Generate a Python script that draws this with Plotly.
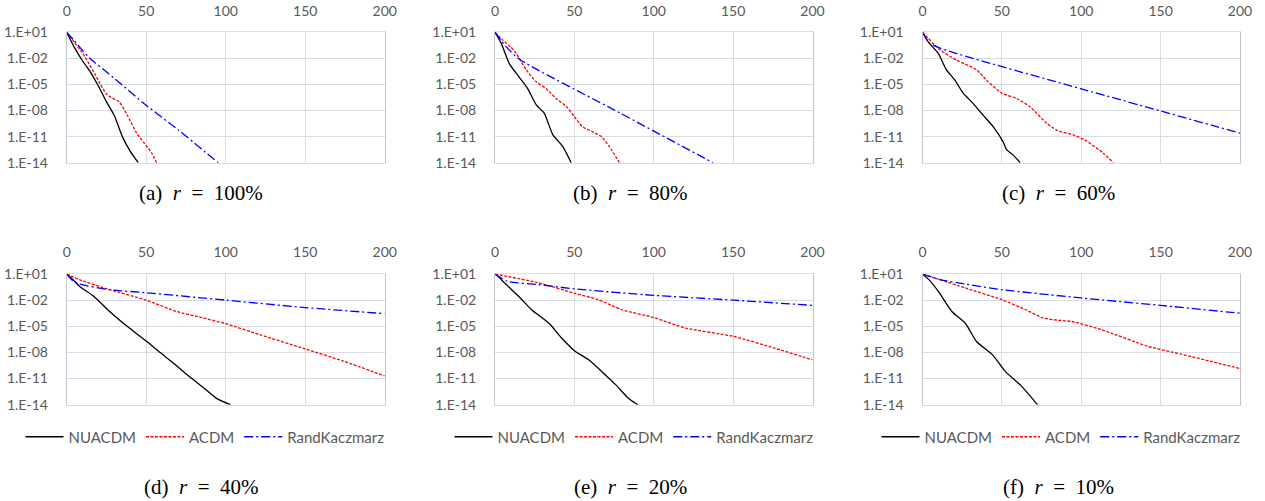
import plotly.graph_objects as go

# ---------------- data ----------------
series_names = ["NUACDM", "ACDM", "RandKaczmarz"]
panel_labels = ["(a)", "(b)", "(c)", "(d)", "(e)", "(f)"]
panel_r = ["100%", "80%", "60%", "40%", "20%", "10%"]
x_ticks = [0, 50, 100, 150, 200]
y_tickvals = [1e1, 1e-2, 1e-5, 1e-8, 1e-11, 1e-14]
y_ticktext = ["1.E+01", "1.E-02", "1.E-05", "1.E-08", "1.E-11", "1.E-14"]

# (a) r = 100%
a_nua_x = [0, 5, 10, 15, 20, 25, 30, 35, 40, 45]
a_nua_y = [1e1, 1.6e-1, 5e-3, 2.5e-4, 6.3e-6, 1e-7, 2.5e-9, 1e-11, 2e-13, 1e-14]
a_acd_x = [0, 5, 10, 14, 18, 21, 25, 28, 33, 38, 44, 49, 53.5, 56.5]
a_acd_y = [1e1, 6.3e-1, 4e-2, 2.5e-3, 1.26e-4, 1.26e-5, 7.9e-7, 3.16e-7, 1e-7,
           3.16e-9, 2.5e-11, 1.58e-12, 1.26e-13, 1e-14]
a_rk_x = [0, 5, 10, 14, 30, 50, 70, 95.3]
a_rk_y = [1e1, 1e0, 7.9e-2, 1.26e-2, 5e-5, 4e-8, 6.3e-11, 1e-14]

# (b) r = 80%
b_nua_x = [0, 4, 9, 15, 20.5, 26, 31, 36.5, 42.7, 48]
b_nua_y = [1e1, 5e-1, 2.5e-3, 7.9e-5, 3.55e-6, 4.47e-8, 5e-9, 1.58e-11, 7.08e-13, 1e-14]
b_acd_x = [0, 5, 10, 13.2, 19.6, 26, 32, 38.5, 45, 50, 55, 61.5, 67, 72, 78.4]
b_acd_y = [1e1, 1.26e0, 2e-1, 4e-2, 5e-4, 2e-5, 3.55e-6, 2.5e-7, 2.82e-8, 2e-9,
           1.41e-10, 3.55e-11, 1e-11, 7.08e-13, 1e-14]
b_rk_x = [0, 7, 15.4, 78.4, 137.3]
b_rk_y = [1e1, 2.24e-1, 7.9e-3, 5.62e-9, 1e-14]

# (c) r = 60%
c_nua_x = [0, 3.6, 10, 15, 20.4, 25.6, 32, 38, 44.5, 50.8, 53, 57, 61.5]
c_nua_y = [1e1, 7.9e-1, 3.55e-2, 5e-4, 3.16e-5, 1e-6, 6.3e-8, 3.16e-9, 1.41e-10,
           2.5e-12, 3.16e-13, 7.9e-14, 1e-14]
c_acd_x = [0, 10.9, 21.4, 34, 40.3, 49.8, 59.2, 67.6, 78.2, 84.5, 95, 102.3, 113.9, 120.2]
c_acd_y = [1e1, 1e-1, 6.3e-3, 5e-4, 3.16e-5, 1e-6, 2.5e-7, 2.82e-8, 3.55e-10,
           5.62e-11, 1.58e-11, 4e-12, 1.26e-13, 1e-14]
c_rk_x = [0, 4.6, 17.2, 100, 200]
c_rk_y = [1e1, 5.37e-1, 6.3e-2, 3.16e-6, 2.5e-11]

# (d) r = 40%
d_nua_x = [0, 4, 8, 17, 27, 38, 50, 59, 67, 76, 86, 94.5, 103]
d_nua_y = [1e1, 2.24e0, 4e-1, 2.82e-2, 5e-4, 1e-5, 2e-7, 8.91e-9, 6.3e-10, 2.5e-11,
           8.91e-13, 5e-14, 1e-14]
d_acd_x = [0, 8, 27, 50, 69, 85, 100, 122, 150, 174, 200]
d_acd_y = [1e1, 2.24e0, 1.58e-1, 1e-2, 5e-4, 1e-4, 2e-5, 1e-6, 2.5e-8, 1e-9, 2e-11]
d_rk_x = [0, 4, 8, 27, 50, 100, 150, 200]
d_rk_y = [1e1, 1.58e0, 7.08e-1, 1.58e-1, 7.08e-2, 1e-2, 1.41e-3, 2.82e-4]

# (e) r = 20%
e_nua_x = [0, 4, 10.5, 17, 23, 34, 42, 50, 59, 67, 76, 84, 90]
e_nua_y = [1e1, 2.24e0, 1.58e-1, 1.12e-2, 7.9e-4, 2.24e-5, 4.47e-7, 1.58e-8, 1.41e-9,
           7.08e-11, 2e-12, 5.62e-14, 1e-14]
e_acd_x = [0, 27, 50, 65, 80, 100, 120, 150, 176, 200]
e_acd_y = [1e1, 1e0, 6.3e-2, 1.12e-2, 7.9e-4, 1e-4, 6.3e-6, 7.08e-7, 3.16e-8, 1.41e-9]
e_rk_x = [0, 8, 27, 50, 100, 150, 200]
e_rk_y = [1e1, 1.41e0, 6.3e-1, 2e-1, 3.55e-2, 1e-2, 2.5e-3]

# (f) r = 10%
f_nua_x = [0, 4, 10, 18.5, 27, 34, 44, 52, 62.5, 72.4]
f_nua_y = [1e1, 2.24e0, 1e-1, 5e-4, 2.24e-5, 1.78e-7, 5.62e-9, 7.08e-11, 1.26e-12, 1e-14]
f_acd_x = [0, 27, 50, 65, 76, 85, 94, 113, 142, 163, 200]
f_acd_y = [1e1, 2.5e-1, 1.12e-2, 7.9e-4, 8.91e-5, 5e-5, 3.55e-5, 3.98e-6, 5e-8, 6.3e-9, 1.41e-10]
f_rk_x = [0, 10, 27, 50, 100, 150, 200]
f_rk_y = [1e1, 2.51e0, 7.08e-1, 1.58e-1, 1.78e-2, 2.5e-3, 3.16e-4]

panels = [
    [(a_nua_x, a_nua_y), (a_acd_x, a_acd_y), (a_rk_x, a_rk_y)],
    [(b_nua_x, b_nua_y), (b_acd_x, b_acd_y), (b_rk_x, b_rk_y)],
    [(c_nua_x, c_nua_y), (c_acd_x, c_acd_y), (c_rk_x, c_rk_y)],
    [(d_nua_x, d_nua_y), (d_acd_x, d_acd_y), (d_rk_x, d_rk_y)],
    [(e_nua_x, e_nua_y), (e_acd_x, e_acd_y), (e_rk_x, e_rk_y)],
    [(f_nua_x, f_nua_y), (f_acd_x, f_acd_y), (f_rk_x, f_rk_y)],
]

# ---------------- styling ----------------
W, H = 1265, 501
FONT = "Lato"
TXT = "#595959"
GRID = "#d9dce3"
line_styles = [
    dict(color="#000000", width=1.3, dash="solid"),
    dict(color="#ff0000", width=1.3, dash="3px,1.5px"),
    dict(color="#0000ff", width=1.3, dash="9px,3px,2px,3px"),
]
col_px = [(66.7, 384.7), (495.0, 812.5), (922.5, 1240.0)]
row_px = [(32.3, 162.7), (274.0, 404.7)]
caption_x_px = [201, 630, 1058]
caption_y_px = [193, 487]
legend_x_px = [205, 634, 1061]
legend_y_px = 437

fig = go.Figure()
layout = dict(
    width=W, height=H, margin=dict(l=0, r=0, t=0, b=0, autoexpand=False),
    paper_bgcolor="white", plot_bgcolor="white",
    font=dict(family=FONT, size=14, color=TXT),
)
annotations = []
for i in range(6):
    r, c = divmod(i, 3)
    n = i + 1
    xa = "xaxis" if n == 1 else f"xaxis{n}"
    ya = "yaxis" if n == 1 else f"yaxis{n}"
    xref = "x" if n == 1 else f"x{n}"
    yref = "y" if n == 1 else f"y{n}"
    layout[xa] = dict(
        domain=[col_px[c][0] / W, col_px[c][1] / W], anchor=yref, side="top",
        range=[0, 200], tickvals=x_ticks, showgrid=True, gridcolor=GRID, gridwidth=1,
        zeroline=False, showline=True, linecolor=GRID, mirror=True, ticks="",
        ticklabelstandoff=10, automargin=False,
        tickfont=dict(family=FONT, size=14, color=TXT),
    )
    layout[ya] = dict(
        domain=[1 - row_px[r][1] / H, 1 - row_px[r][0] / H], anchor=xref,
        type="log", range=[-14, 1], tickmode="array", tickvals=y_tickvals,
        ticktext=y_ticktext, showgrid=True, gridcolor=GRID, gridwidth=1,
        zeroline=False, showline=True, linecolor="#c0c6d2", mirror=True, ticks="",
        ticklabelstandoff=15, automargin=False,
        tickfont=dict(family=FONT, size=14, color=TXT),
    )
    leg_name = None
    if r == 1:
        leg_name = "legend" if c == 0 else f"legend{c + 1}"
        layout[leg_name] = dict(
            orientation="h", x=legend_x_px[c] / W, xanchor="center",
            y=1 - legend_y_px / H, yanchor="middle", bgcolor="rgba(0,0,0,0)",
            font=dict(family=FONT, size=15, color=TXT), itemwidth=38,
            tracegroupgap=0,
        )
    for s, (xs, ys) in enumerate(panels[i]):
        tr = dict(
            x=xs, y=ys, mode="lines", name=series_names[s], xaxis=xref, yaxis=yref,
            line=dict(**line_styles[s], shape="spline", smoothing=0.6),
            showlegend=(r == 1), hoverinfo="skip",
        )
        if leg_name:
            tr["legend"] = leg_name
        fig.add_trace(go.Scatter(**tr))
    annotations.append(dict(
        x=caption_x_px[c] / W, y=1 - caption_y_px[r] / H, xref="paper", yref="paper",
        xanchor="center", yanchor="middle", showarrow=False,
        text=f"{panel_labels[i]}&nbsp;&nbsp;<i>r</i>&nbsp;&nbsp;=&nbsp;&nbsp;{panel_r[i]}",
        font=dict(family="Liberation Serif", size=21, color="#000000"),
    ))
layout["annotations"] = annotations
fig.update_layout(**layout)

fig.write_html("out.html", config={"displayModeBar": False},
               post_script="document.body.style.margin='0';")
